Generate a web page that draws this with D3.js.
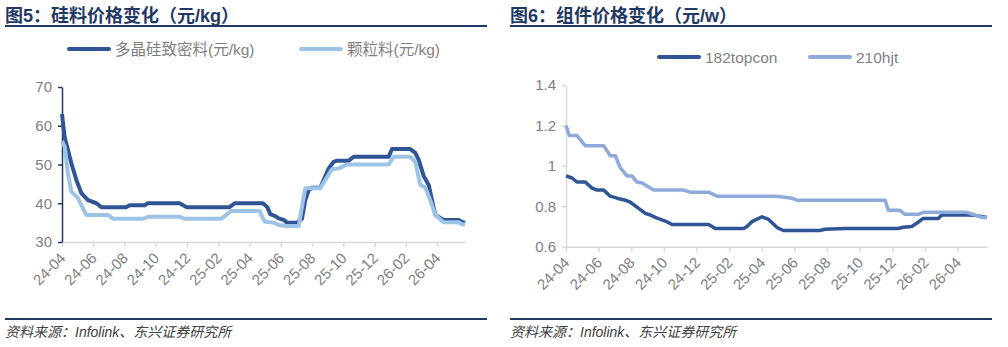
<!DOCTYPE html>
<html>
<head>
<meta charset="utf-8">
<script src="https://cdn.jsdelivr.net/npm/d3@7"></script>
<style>
  body { margin: 0; background: #fff; }
  svg text { font-family: "Liberation Sans", "Noto Sans CJK SC", sans-serif; }
</style>
</head>
<body>
<svg id="chart" width="1008" height="347"></svg>
<script>
// tick labels (every 2 months starting 24-04); x values are months since 2024-04
const tickLabels = ['24-04', '24-06', '24-08', '24-10', '24-12', '25-02', '25-04', '25-06', '25-08', '25-10', '25-12', '26-02', '26-04'];
const xEnd = 25.8;

// fig 5: polysilicon prices (yuan/kg)
const siMonths = [0, 0.17, 0.6, 0.92, 1.24, 1.66, 2.2, 2.52, 4.12, 4.33, 5.29, 5.5, 7.53, 7.96, 10.73, 11.05, 12.86, 13.14, 13.33, 13.65, 13.87, 14.19, 14.4, 15.04, 15.36, 15.57, 15.79, 16, 16.53, 17.07, 17.39, 17.6, 18.35, 18.67, 20.91, 21.12, 22.29, 22.61, 22.83, 23.15, 23.47, 23.68, 23.89, 24.43, 25.39, 25.6, 25.8];
const siDense = [63, 57, 50.3, 46, 42.6, 40.8, 40, 39, 39, 39.5, 39.5, 40, 40, 39, 39, 40, 40, 39, 37.2, 36.7, 36.1, 35.7, 35, 35, 36, 40.8, 43.4, 44, 44, 49, 50.7, 51, 51, 52, 52, 54, 54, 53, 51.2, 47, 44.7, 40.8, 37, 35.7, 35.7, 35.2, 35];
const granMonths = [0, 0.17, 0.38, 0.6, 1.02, 1.55, 2.94, 3.26, 5.18, 5.5, 7.53, 7.85, 10.2, 10.51, 10.83, 12.65, 12.86, 13.01, 13.55, 13.87, 14.4, 15.15, 15.36, 15.57, 16.53, 16.85, 17.28, 17.71, 18.24, 20.91, 21.23, 22.29, 22.61, 22.93, 23.25, 23.57, 23.89, 24.43, 25.39, 25.6, 25.8];
const granular = [56, 54.6, 47.7, 43, 41.3, 37, 37, 36, 36, 36.5, 36.5, 36, 36, 37, 38, 38, 36.1, 35.2, 35, 34.4, 34.1, 34.1, 39.1, 43.9, 43.9, 46, 48.8, 49, 50, 50, 52, 52, 50.7, 44.7, 44.1, 40.8, 37, 35.1, 35.1, 34.6, 34.5];
const siTicks = [30, 40, 50, 60, 70];

// fig 6: module prices (yuan/W)
const topconMonths = [0, 0.37, 0.67, 1.18, 1.59, 1.9, 2.31, 2.71, 3.13, 3.63, 3.94, 4.45, 4.86, 5.17, 5.47, 6.08, 6.5, 8.74, 9.15, 10.89, 11.09, 11.4, 12.01, 12.42, 12.93, 13.31, 15.56, 15.87, 17.1, 20.36, 20.67, 21.18, 21.49, 21.89, 22.81, 23.02, 24.55, 25.06, 25.8];
const topcon = [0.95, 0.94, 0.92, 0.92, 0.89, 0.88, 0.88, 0.85, 0.84, 0.83, 0.82, 0.79, 0.765, 0.757, 0.745, 0.727, 0.71, 0.71, 0.69, 0.69, 0.7, 0.724, 0.748, 0.735, 0.695, 0.68, 0.68, 0.686, 0.69, 0.69, 0.696, 0.7, 0.716, 0.74, 0.74, 0.757, 0.757, 0.755, 0.745];
const hjtMonths = [0, 0.2, 0.67, 1.18, 2.31, 2.71, 3.02, 3.33, 3.74, 4.04, 4.35, 4.66, 4.96, 5.37, 7.21, 7.62, 8.74, 9.25, 12.81, 13.42, 13.83, 14.14, 19.55, 19.75, 20.47, 20.77, 21.59, 21.9, 24.55, 25.06, 25.47, 25.8];
const hjt = [1.2, 1.15, 1.15, 1.1, 1.1, 1.05, 1.05, 0.99, 0.95, 0.95, 0.92, 0.915, 0.9, 0.88, 0.88, 0.87, 0.87, 0.85, 0.85, 0.845, 0.84, 0.83, 0.83, 0.78, 0.78, 0.76, 0.76, 0.77, 0.77, 0.757, 0.745, 0.745];
const modTicks = [0.6, 0.8, 1, 1.2, 1.4];

const NAVY = '#1f3864';
const svg = d3.select('#chart');

function drawPanel(cfg) {
    const g = svg.append('g').attr('transform', `translate(${cfg.ox},0)`);
    // title + rules
    g.append('text').attr('x', 5).attr('y', 22).attr('font-size', 18).attr('font-weight', 'bold').attr('fill', NAVY).text(cfg.title);
    g.append('line').attr('x1', 5).attr('x2', 487).attr('y1', 26).attr('y2', 26).attr('stroke', NAVY).attr('stroke-width', 2);
    g.append('line').attr('x1', 5).attr('x2', 487).attr('y1', 319).attr('y2', 319).attr('stroke', NAVY).attr('stroke-width', 2);
    g.append('text').attr('x', 5).attr('y', 337).attr('font-size', 14).attr('font-style', 'italic').attr('fill', '#404040').text('资料来源：Infolink、东兴证券研究所');

    const x = d3.scaleLinear().domain([0, xEnd]).range([cfg.left, cfg.left + cfg.monthW * xEnd]);
    const y = d3.scaleLinear().domain(cfg.yDomain).range([cfg.bottom, cfg.top]);

    // x axis
    const xa = g.append('g').attr('transform', `translate(0,${cfg.bottom})`)
        .call(d3.axisBottom(x).tickValues(tickLabels.map((d, i) => i * 2)).tickFormat((d, i) => tickLabels[i]).tickSize(5).tickSizeOuter(0));
    xa.select('.domain').attr('stroke', '#d9d9d9').attr('stroke-width', 1.5);
    xa.selectAll('.tick line').attr('stroke', '#d9d9d9').attr('stroke-width', 1.5);
    xa.selectAll('.tick text').attr('font-size', 15).attr('fill', '#7f7f7f').attr('font-family', '"Liberation Sans", sans-serif')
        .attr('text-anchor', 'end').attr('dy', 0).attr('y', 0).attr('transform', 'translate(4,17) rotate(-45)');

    // y axis
    const ya = g.append('g').attr('transform', `translate(${cfg.left},0)`)
        .call(d3.axisLeft(y).tickValues(cfg.yTicks).tickFormat(d3.format('')).tickSize(4).tickSizeOuter(0));
    ya.select('.domain').attr('stroke', cfg.yAxisColor).attr('stroke-width', 1.5);
    ya.selectAll('.tick line').attr('stroke', cfg.yAxisColor).attr('stroke-width', 1.5);
    ya.selectAll('.tick text').attr('font-size', 15).attr('fill', '#7f7f7f').attr('x', -10).attr('font-family', '"Liberation Sans", sans-serif');

    // lines
    const line = d3.line().x(d => x(d[0])).y(d => y(d[1]));
    cfg.series.forEach(s => {
        g.append('path').datum(d3.zip(s.months, s.values)).attr('d', line)
            .attr('fill', 'none').attr('stroke', s.color).attr('stroke-width', cfg.lineW).attr('stroke-linejoin', 'round');
    });

    // legend
    cfg.series.forEach(s => {
        g.append('line').attr('x1', s.lx).attr('x2', s.lx + 40).attr('y1', cfg.legY).attr('y2', cfg.legY)
            .attr('stroke', s.color).attr('stroke-width', 4).attr('stroke-linecap', 'round');
        g.append('text').attr('x', s.lx + 46).attr('y', cfg.legY + 5.5).attr('font-size', 15.5).attr('fill', '#7f7f7f').text(s.name);
    });
}

drawPanel({
    ox: 0, title: '图5：硅料价格变化（元/kg）', left: 62, monthW: 15.625, top: 87, bottom: 242,
    yDomain: [30, 70], yTicks: siTicks, yAxisColor: NAVY, lineW: 4, legY: 49,
    series: [
        { name: '多晶硅致密料(元/kg)', months: siMonths, values: siDense, color: '#2f5597', lx: 69 },
        { name: '颗粒料(元/kg)', months: granMonths, values: granular, color: '#9dc3e6', lx: 301 }
    ]
});
drawPanel({
    ox: 505, title: '图6：组件价格变化（元/w）', left: 61, monthW: 16.32, top: 85, bottom: 246.7,
    yDomain: [0.6, 1.4], yTicks: modTicks, yAxisColor: '#d9d9d9', lineW: 3.5, legY: 57,
    series: [
        { name: '182topcon', months: topconMonths, values: topcon, color: '#2f5597', lx: 154 },
        { name: '210hjt', months: hjtMonths, values: hjt, color: '#8eaadb', lx: 305 }
    ]
});
</script>
</body>
</html>
